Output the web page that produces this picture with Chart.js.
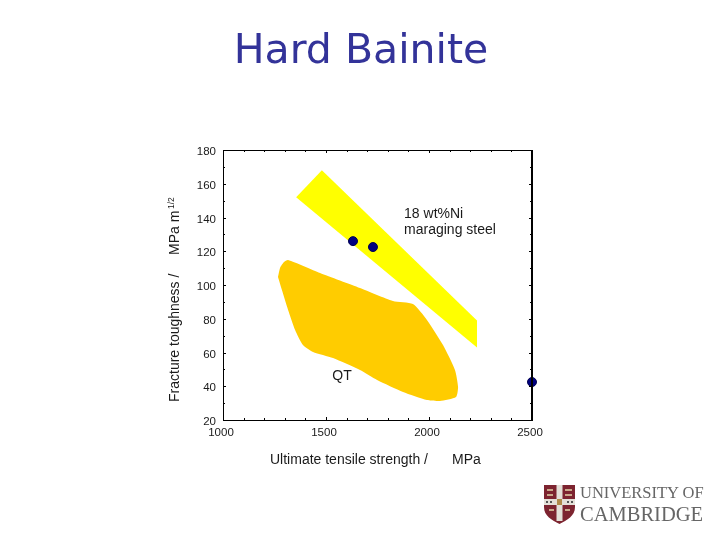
<!DOCTYPE html>
<html>
<head>
<meta charset="utf-8">
<title>Hard Bainite</title>
<script src="https://cdn.jsdelivr.net/npm/chart.js@4"></script>
<style>
  html, body { margin: 0; padding: 0; background: #fff; }
  #wrap { position: relative; width: 720px; height: 540px; overflow: hidden; }
  #logo { position: absolute; left: 544px; top: 485px; }
  .uni { position: absolute; font-family: "Liberation Serif", serif; color: #666; white-space: nowrap; }
</style>
</head>
<body>
<div id="wrap">
  <canvas id="chart" width="720" height="540"></canvas>
  <svg id="logo" width="31" height="39" viewBox="0 0 31 39">
    <path d="M0 0H31V22C31 31 23 35 15.5 39C8 35 0 31 0 22Z" fill="#7d2430"/>
    <rect x="12.5" y="0" width="6" height="36" fill="#e4e0d8"/>
    <rect x="0" y="14" width="31" height="6" fill="#e4e0d8"/>
    <rect x="13" y="14" width="5" height="6" fill="#b08a4a"/>
    <path d="M3 4h6v2H3zM21 4h7v2h-7zM3 9h6v2H3zM21 9h7v2h-7zM5 24h5v2H5zM21 24h5v2h-5z" fill="#c9a98a"/>
    <path d="M2 16h2v2H2zM6 16h2v2H6zM23 16h2v2h-2zM27 16h2v2h-2z" fill="#555"/>
  </svg>
  <span class="uni" style="left:580px;top:483px;font-size:16.5px;">UNIVERSITY OF</span>
  <span class="uni" style="left:580px;top:503px;font-size:20.5px;">CAMBRIDGE</span>
</div>
<script>
// Hard Bainite: toughness against strength

// Envelope of the 18 wt%Ni maraging steels
var maragingX = [1480, 1355, 2233, 2233, 1480];
var maragingY = [168, 152, 63, 79, 168];

// Envelope of the quenched and tempered steels
var qtX = [1267, 1277, 1296, 1316, 1471, 1665, 1825, 1922, 1990, 2068, 2126, 2141, 2131, 2053, 1990, 1874, 1748, 1665, 1534, 1437, 1388, 1350, 1316, 1286, 1267];
var qtY = [104.7, 110.1, 113.6, 114.8, 107.1, 98.2, 90.5, 88.7, 79.3, 64.4, 49.6, 39.6, 33.6, 31.3, 31.8, 36.6, 43.7, 49.6, 56.7, 60.3, 64.4, 73.3, 85.2, 97, 104.7];

// Hard bainite results
var bainiteX = [1631, 1728, 2500];
var bainiteY = [126, 122.5, 42.5];

// Axis ranges and label steps
var xRange = [1000, 2500];
var yRange = [20, 180];
var xLabelStep = 500;
var yLabelStep = 20;

// Notes placed in data units
var noteText = ['18 wt%Ni', 'maraging steel', 'QT'];
var noteX = [1879, 1879, 1578];
var noteY = [142.1, 132.6, 46.1];
var noteAlign = ['left', 'left', 'center'];

function toPoints(xs, ys) {
  return xs.map(function (x, i) {
    return { x: x, y: ys[i] };
  });
}

var labelFont = '"Liberation Sans", Arial, sans-serif';

// Ticks point inwards on all four sides, so the frame is drawn by hand
var framePlugin = {
  id: 'frame',
  afterDatasetsDraw: function (chart) {
    var ctx = chart.ctx, area = chart.chartArea;
    var xs = chart.scales.x, ys = chart.scales.y;
    ctx.save();
    ctx.strokeStyle = '#000';
    ctx.lineWidth = 1;
    ctx.beginPath();
    xs.ticks.forEach(function (t) {
      var len = t.value % xLabelStep === 0 ? 3 : 2;
      var px = Math.round(xs.getPixelForValue(t.value)) + 0.5;
      ctx.moveTo(px, area.bottom);
      ctx.lineTo(px, area.bottom - len);
      ctx.moveTo(px, area.top);
      ctx.lineTo(px, area.top + len);
    });
    ys.ticks.forEach(function (t) {
      var len = t.value % yLabelStep === 0 ? 3 : 2;
      var py = Math.round(ys.getPixelForValue(t.value)) + 0.5;
      ctx.moveTo(area.left, py);
      ctx.lineTo(area.left + len, py);
      ctx.moveTo(area.right, py);
      ctx.lineTo(area.right - len, py);
    });
    ctx.moveTo(area.left + 0.5, area.top + 0.5);
    ctx.lineTo(area.right, area.top + 0.5);
    ctx.moveTo(area.left + 0.5, area.top);
    ctx.lineTo(area.left + 0.5, area.bottom + 0.5);
    ctx.lineTo(area.right, area.bottom + 0.5);
    ctx.stroke();
    // right hand side is heavier in the original
    ctx.lineWidth = 2;
    ctx.beginPath();
    ctx.moveTo(area.right, area.top);
    ctx.lineTo(area.right, area.bottom + 1);
    ctx.stroke();
    ctx.restore();
  }
};

var notesPlugin = {
  id: 'notes',
  afterDraw: function (chart) {
    var ctx = chart.ctx, area = chart.chartArea;
    var xs = chart.scales.x, ys = chart.scales.y;
    ctx.save();

    // title sits over the whole slide, not over the plot
    ctx.fillStyle = '#333399';
    ctx.textAlign = 'center';
    ctx.textBaseline = 'alphabetic';
    ctx.font = '41px "DejaVu Sans", sans-serif';
    ctx.fillText('Hard Bainite', 361, 63);

    ctx.fillStyle = '#1a1a1a';
    ctx.textBaseline = 'middle';
    ctx.font = '14px ' + labelFont;
    noteText.forEach(function (text, i) {
      ctx.textAlign = noteAlign[i];
      ctx.fillText(text, xs.getPixelForValue(noteX[i]), ys.getPixelForValue(noteY[i]));
    });

    // axis titles, the gap before the units is part of the original
    ctx.textAlign = 'left';
    ctx.fillText('Ultimate tensile strength /', area.left + 47, area.bottom + 40);
    ctx.fillText('MPa', area.left + 229, area.bottom + 40);

    ctx.translate(area.left - 48, 0);
    ctx.rotate(-Math.PI / 2);
    ctx.fillText('Fracture toughness /', -402, 0);
    ctx.fillText('MPa m', -255, 0);
    ctx.font = '8.5px ' + labelFont;
    ctx.fillText('1/2', -209, -3);
    ctx.restore();
  }
};

new Chart(document.getElementById('chart'), {
  type: 'scatter',
  data: {
    datasets: [
      {
        label: 'hard bainite',
        data: toPoints(bainiteX, bainiteY),
        backgroundColor: '#000080',
        borderColor: '#000050',
        borderWidth: 1,
        pointRadius: 4.5,
        clip: false
      },
      {
        label: 'maraging',
        data: toPoints(maragingX, maragingY),
        showLine: true,
        fill: 'shape',
        borderWidth: 0,
        backgroundColor: '#ffff00',
        pointRadius: 0
      },
      {
        label: 'QT',
        data: toPoints(qtX, qtY),
        showLine: true,
        fill: 'shape',
        tension: 0.2,
        borderWidth: 0,
        backgroundColor: '#ffcc00',
        pointRadius: 0
      }
    ]
  },
  options: {
    responsive: false,
    animation: false,
    events: [],
    layout: { padding: { top: 150, right: 188 } },
    plugins: {
      legend: { display: false },
      tooltip: { enabled: false },
      title: { display: false }
    },
    scales: {
      x: {
        type: 'linear',
        min: xRange[0],
        max: xRange[1],
        afterFit: function (scale) { scale.height = 120; },
        border: { display: false },
        grid: { drawOnChartArea: false, drawTicks: false },
        ticks: {
          stepSize: 100,
          autoSkip: false,
          maxRotation: 0,
          padding: 6,
          labelOffset: -2,
          color: '#1a1a1a',
          font: { family: labelFont, size: 11.5 },
          callback: function (v) { return v % xLabelStep === 0 ? String(v) : ''; }
        }
      },
      y: {
        type: 'linear',
        min: yRange[0],
        max: yRange[1],
        afterFit: function (scale) { scale.width = 223; },
        border: { display: false },
        grid: { drawOnChartArea: false, drawTicks: false },
        ticks: {
          stepSize: 10,
          autoSkip: false,
          padding: 7,
          labelOffset: 2,
          color: '#1a1a1a',
          font: { family: labelFont, size: 11.5 },
          callback: function (v) { return v % yLabelStep === 0 ? String(v) : ''; }
        }
      }
    }
  },
  plugins: [framePlugin, notesPlugin]
});
</script>
</body>
</html>
